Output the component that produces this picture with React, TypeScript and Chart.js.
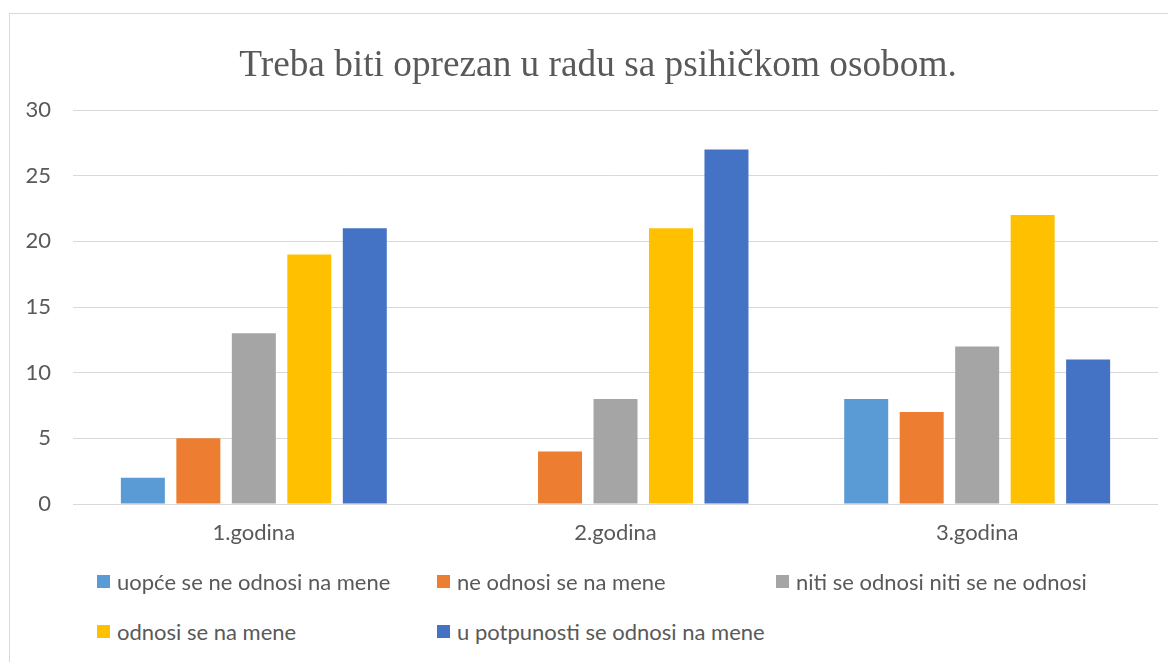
import React, { useEffect, useRef } from "react";
import { Chart, registerables } from "chart.js";

Chart.register(...registerables);

const title = "Treba biti oprezan u radu sa psihičkom osobom.";
const categories = ["1.godina", "2.godina", "3.godina"];
const seriesNames = [
  "uopće se ne odnosi na mene",
  "ne odnosi se na mene",
  "niti se odnosi niti se ne odnosi",
  "odnosi se na mene",
  "u potpunosti se odnosi na mene",
];
const uopceSeNe = [2, 0, 8];
const neOdnosi = [5, 4, 7];
const niti = [13, 8, 12];
const odnosi = [19, 21, 22];
const uPotpunosti = [21, 27, 11];
const seriesValues = [uopceSeNe, neOdnosi, niti, odnosi, uPotpunosti];
const seriesColors = ["#5B9BD5", "#ED7D31", "#A5A5A5", "#FFC000", "#4472C4"];
const yTicks = [0, 5, 10, 15, 20, 25, 30];

const FONT = "Lato";
const TEXT = "#595959";

// legend layout (grid cells)
const legendCols = [87, 427, 766];
const legendRows = [567, 617];

export default function App() {
  const ref = useRef<HTMLCanvasElement | null>(null);

  useEffect(() => {
    if (!ref.current) return;
    const chart = new Chart(ref.current, {
      type: "bar",
      data: {
        labels: categories,
        datasets: seriesNames.map((name, i) => ({
          label: name,
          data: seriesValues[i],
          backgroundColor: seriesColors[i],
          borderWidth: 0,
          categoryPercentage: 0.767,
          barPercentage: 0.793,
        })),
      },
      options: {
        responsive: false,
        animation: false,
        layout: { padding: { left: 0, right: 18, top: 96, bottom: 0 } },
        plugins: {
          legend: { display: false },
          tooltip: { enabled: false },
          title: { display: false },
        },
        scales: {
          x: {
            grid: { display: false, drawTicks: false },
            border: { display: false },
            ticks: { color: TEXT, font: { family: FONT, size: 22 }, padding: 16 },
            afterFit: (s: any) => {
              s.height = 70;
            },
          },
          y: {
            min: 0,
            max: 30,
            afterBuildTicks: (s: any) => {
              s.ticks = yTicks.map((v) => ({ value: v }));
            },
            grid: { color: "#D9D9D9", lineWidth: 1, drawTicks: false },
            border: { display: false },
            ticks: { color: TEXT, font: { family: FONT, size: 22 }, padding: 22 },
            afterFit: (s: any) => {
              s.width = 63;
            },
          },
        },
      },
    });
    return () => chart.destroy();
  }, []);

  return (
    <div
      style={{
        position: "relative",
        marginLeft: 1,
        marginTop: 5,
        width: 1167,
        height: 660,
        borderTop: "1px solid #D9D9D9",
        borderLeft: "1px solid #D9D9D9",
        boxSizing: "border-box",
        overflow: "hidden",
        background: "#fff",
      }}
    >
      <canvas ref={ref} width={1166} height={560} style={{ position: "absolute", left: 0, top: 0 }} />
      <div
        style={{
          position: "absolute",
          left: 0,
          top: 27,
          width: 1176,
          height: 45,
          lineHeight: "45px",
          textAlign: "center",
          fontFamily: "Liberation Serif",
          fontSize: 37.3,
          color: TEXT,
          whiteSpace: "nowrap",
        }}
      >
        {title}
      </div>
      {seriesNames.map((name, i) => {
        const col = i < 3 ? i : i - 3;
        const row = i < 3 ? 0 : 1;
        return (
          <div
            key={name}
            style={{
              position: "absolute",
              left: legendCols[col],
              top: legendRows[row] - 15,
              height: 30,
              display: "flex",
              alignItems: "center",
              whiteSpace: "nowrap",
              fontFamily: FONT,
              fontSize: 22,
              color: TEXT,
            }}
          >
            <span
              style={{
                display: "inline-block",
                width: 13,
                height: 13,
                background: seriesColors[i],
                marginRight: 7,
              }}
            />
            <span>{name}</span>
          </div>
        );
      })}
    </div>
  );
}
